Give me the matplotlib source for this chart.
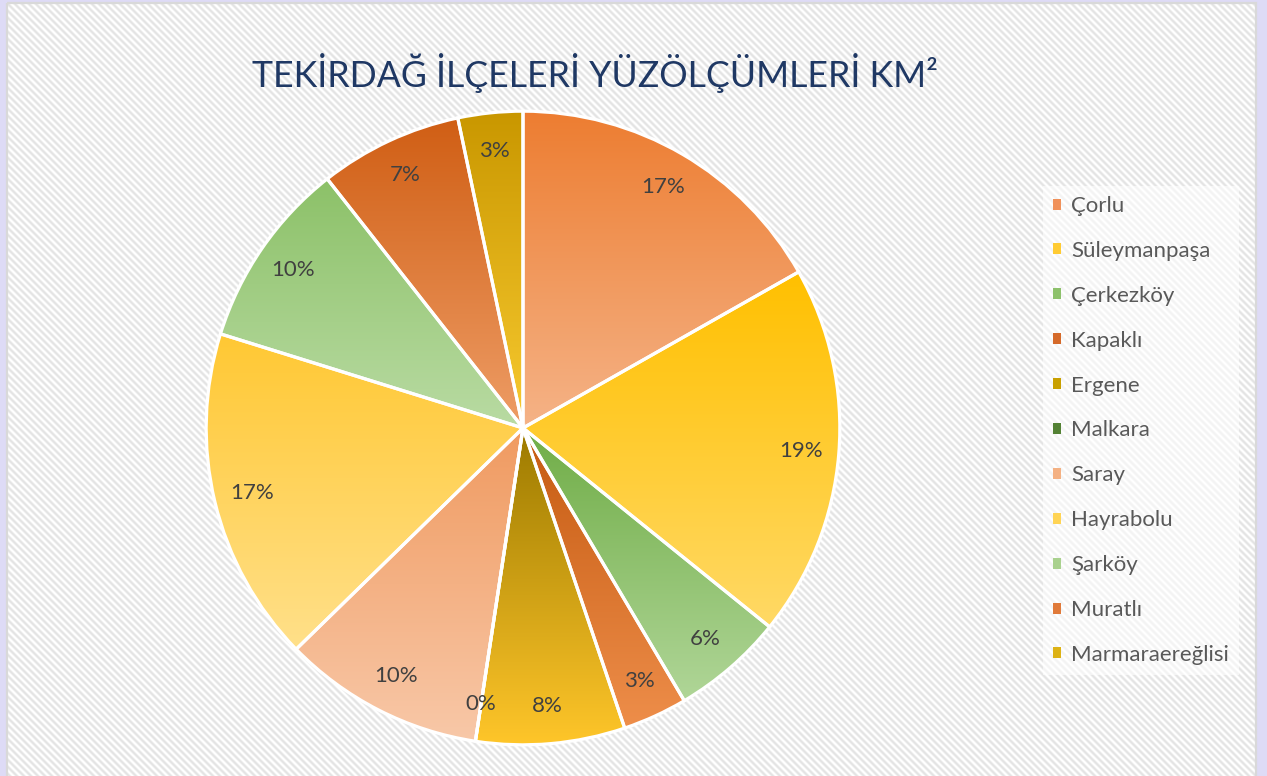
import numpy as np
import matplotlib
matplotlib.use("Agg")
import matplotlib.pyplot as plt
from matplotlib.colors import LinearSegmentedColormap
from matplotlib.patches import Rectangle, Patch

# İlçeler ve yüzölçüm payları (resimden okunan açılara göre)
ilceler = ["Çorlu", "Süleymanpaşa", "Çerkezköy", "Kapaklı", "Ergene", "Malkara",
           "Saray", "Hayrabolu", "Şarköy", "Muratlı", "Marmaraereğlisi"]
alanlar = [168, 190, 57, 33, 76, 0, 103, 171, 96, 73, 33]

# dilim renkleri: (üst, alt) gradyan
renk_ust = ["#ED7D31", "#FFC000", "#70AD47", "#C55A11", "#9C7A00", "#548235",
            "#F09A60", "#FFC833", "#8CC168", "#D05E14", "#C99700"]
renk_alt = ["#F5B387", "#FFD966", "#B0D698", "#EE8E4A", "#FFC62A", "#548235",
            "#F8C8A8", "#FFE08A", "#B9DBA3", "#EE9D66", "#F8CA30"]
renk_legend = ["#F0915A", "#FFCB33", "#8DC16B", "#D56A2A", "#C9A000", "#548235",
               "#F4B183", "#FFD455", "#A9D18E", "#E07A3A", "#DDB215"]

plt.rcParams['font.family'] = ['Lato', 'DejaVu Sans']

W, H = 1267, 776
fig = plt.figure(figsize=(W / 100, H / 100), dpi=100)
fig.patch.set_facecolor("#DEDBF6")

# grafik alani (taralı arka plan)
bg = fig.add_axes([0, 0, 1, 1])
bg.set_xlim(0, W)
bg.set_ylim(H, 0)
bg.axis("off")

x0f, y0f, x1f, y1f = 7, 3, 1256, 776
xx, yy = np.meshgrid(np.arange(x1f - x0f), np.arange(y1f - y0f))
desen = 0.5 + 0.5 * np.cos(2 * np.pi * (xx - yy) / 7.0)
tarama = LinearSegmentedColormap.from_list("t", ["#FFFFFF", "#E3E3E3"])
bg.imshow(desen, extent=[x0f, x1f, y1f, y0f], cmap=tarama, aspect="auto",
          interpolation="nearest", zorder=0)
bg.set_xlim(0, W)
bg.set_ylim(H, 0)
bg.add_patch(Rectangle((x0f, y0f), 1249, 790, facecolor="none", edgecolor="#D9D9D9",
                       linewidth=1.6, zorder=1))

bg.text(595, 73, "TEKİRDAĞ İLÇELERİ YÜZÖLÇÜMLERİ KM²", ha="center", va="center",
        fontsize=25.7, color="#1F3864", zorder=2)

# pasta grafik
cx, cy, r = 523, 428, 320
ax = fig.add_axes([(cx - r) / W, (H - cy - r) / H, 2 * r / W, 2 * r / H])
wedges, texts, autotexts = ax.pie(
    alanlar, startangle=90, counterclock=False, autopct="%1.0f%%",
    pctdistance=0.88, radius=1,
    wedgeprops=dict(edgecolor="white", linewidth=2.3),
    textprops=dict(fontsize=16, color="#404040"))

for w, v, cu, ca in zip(wedges, alanlar, renk_ust, renk_alt):
    w.set_facecolor("none")
    w.set_zorder(2)
    if v == 0:
        continue
    verts = w.get_path().vertices
    x0, y0 = verts.min(axis=0)
    x1, y1 = verts.max(axis=0)
    cmap = LinearSegmentedColormap.from_list("g", [ca, cu])
    grad = np.linspace(0, 1, 256)[:, None]
    im = ax.imshow(grad, extent=[x0, x1, y0, y1], origin="lower", cmap=cmap,
                   aspect="auto", zorder=1, interpolation="bilinear")
    im.set_clip_path(w)

for t in autotexts:
    t.set_zorder(3)

ax.set_xlim(-1.01, 1.01)
ax.set_ylim(-1.01, 1.01)
ax.axis("off")

# gösterge
handles = [Patch(facecolor=c, edgecolor="none") for c in renk_legend]
leg = fig.legend(handles, ilceler, loc="upper left",
                 bbox_to_anchor=(1043 / W, 1 - 186 / H), frameon=True,
                 fontsize=16, labelspacing=1.12, handlelength=0.38,
                 handleheight=0.38, handletextpad=0.45, borderpad=0.45,
                 borderaxespad=0, labelcolor="#595959")
leg.get_frame().set_facecolor("white")
leg.get_frame().set_alpha(0.6)
leg.get_frame().set_edgecolor("none")
leg.get_frame().set_boxstyle("square", pad=0)

fig.savefig("out.png", dpi=100, facecolor=fig.get_facecolor())
